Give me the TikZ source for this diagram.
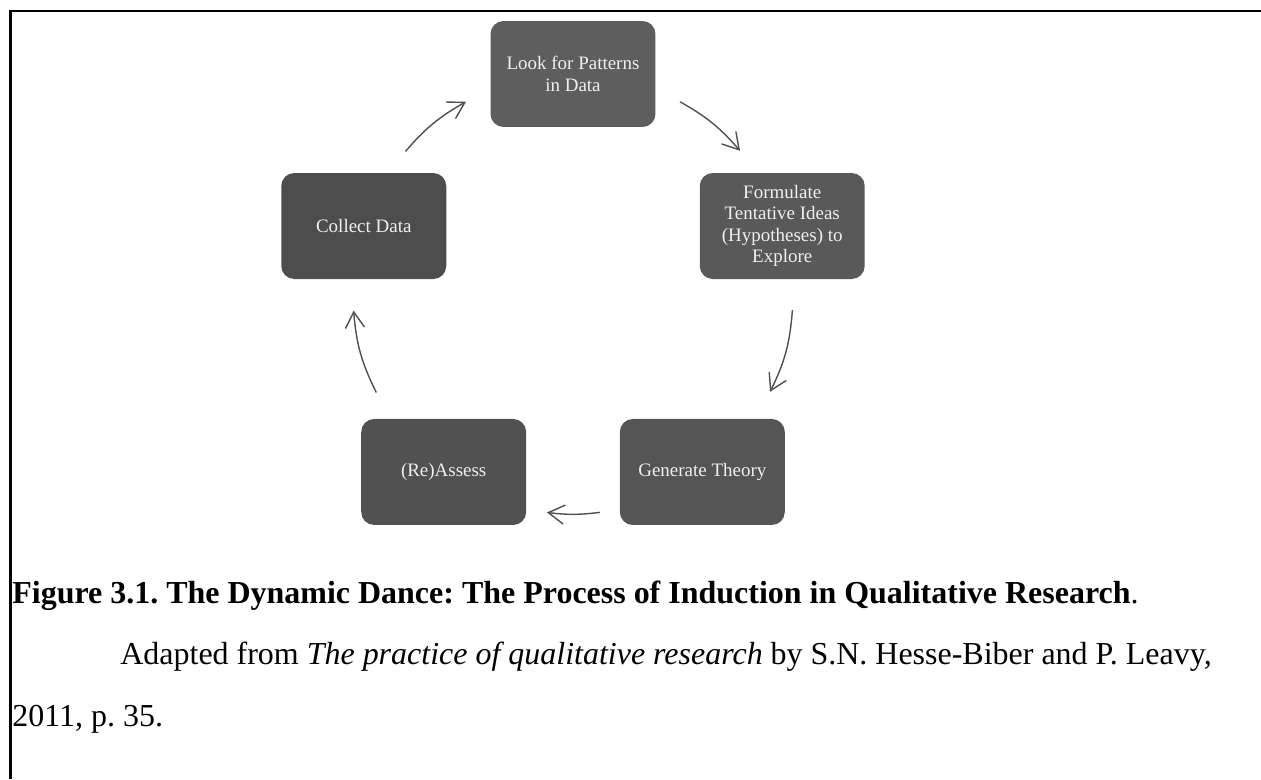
\documentclass[tikz,border=0pt]{standalone}
\usepackage{fontspec}
\setmainfont{Liberation Serif}
\usetikzlibrary{calc,arrows.meta,positioning}

\definecolor{stageA}{HTML}{5E5E5E}
\definecolor{stageB}{HTML}{595959}
\definecolor{stageC}{HTML}{555555}
\definecolor{stageD}{HTML}{515151}
\definecolor{stageE}{HTML}{4D4D4D}
\definecolor{stagetext}{HTML}{EFEFEF}
\definecolor{arrowgray}{HTML}{505050}

\frenchspacing
\begin{document}
\begin{tikzpicture}[x=0.02cm,y=0.02cm,
    stage/.style={rounded corners=0.26cm, minimum width=3.3cm, minimum height=2.12cm,
      inner sep=0pt, align=center, text=stagetext, font=\fontsize{10.8}{12.2}\selectfont},
    cyc/.style={draw=arrowgray, line width=0.8pt, -{Straight Barb[length=3.2mm,width=3.8mm]}},
    captxt/.style={anchor=base west, inner sep=0pt, font=\fontsize{18.2}{22}\selectfont}]
        \useasboundingbox (0,0) rectangle (1261,779);
        % frame
        \draw[line width=1.15pt] (10.5,0) -- (10.5,768) -- (1261,768);
        % centre of the cycle
        \coordinate (c) at (573,485);
        \node[stage, fill=stageA] (look) at ($(c)+(90:220)$) {Look for Patterns\\in Data};
        \node[stage, fill=stageB] (formulate) at ($(c)+(18:220)$) {Formulate\\Tentative Ideas\\(Hypotheses) to\\Explore};
        \node[stage, fill=stageC] (theory) at ($(c)+(-54:220)$) {Generate Theory};
        \node[stage, fill=stageD] (assess) at ($(c)+(-126:220)$) {(Re)Assess};
        \node[stage, fill=stageE] (collect) at ($(c)+(162:220)$) {Collect Data};
        % arrows along the circle
        \coordinate (s1) at ($(c)+(139.6:220)$);
        \coordinate (e1) at ($(c)+(119.1:220)$);
        \coordinate (s2) at ($(c)+(60.9:220)$);
        \coordinate (e2) at ($(c)+(40.6:220)$);
        \coordinate (s3) at ($(c)+(-4.2:220)$);
        \coordinate (e3) at ($(c)+(-26.4:220)$);
        \coordinate (s4) at ($(c)+(-83:220)$);
        \coordinate (e4) at ($(c)+(-96.8:220)$);
        \coordinate (s5) at ($(c)+(-153.4:220)$);
        \coordinate (e5) at ($(c)+(-175.7:220)$);
        \draw[cyc] (s1) to[bend left=10] (e1);
        \draw[cyc] (s2) to[bend left=10] (e2);
        \draw[cyc] (s3) to[bend left=11] (e3);
        \draw[cyc] (s4) to[bend left=7] (e4);
        \draw[cyc] (s5) to[bend left=11] (e5);
        % caption
        \node[captxt] (caption) at (12,176) {\textbf{Figure 3.1. The Dynamic Dance: The Process of Induction in Qualitative Research}.};
        \node[captxt] (source) at (120,115) {Adapted from \textit{The practice of qualitative research} by S.N. Hesse-Biber and P. Leavy,};
        \node[captxt] (year) at (12,53) {2011, p. 35.};
\end{tikzpicture}
\end{document}
